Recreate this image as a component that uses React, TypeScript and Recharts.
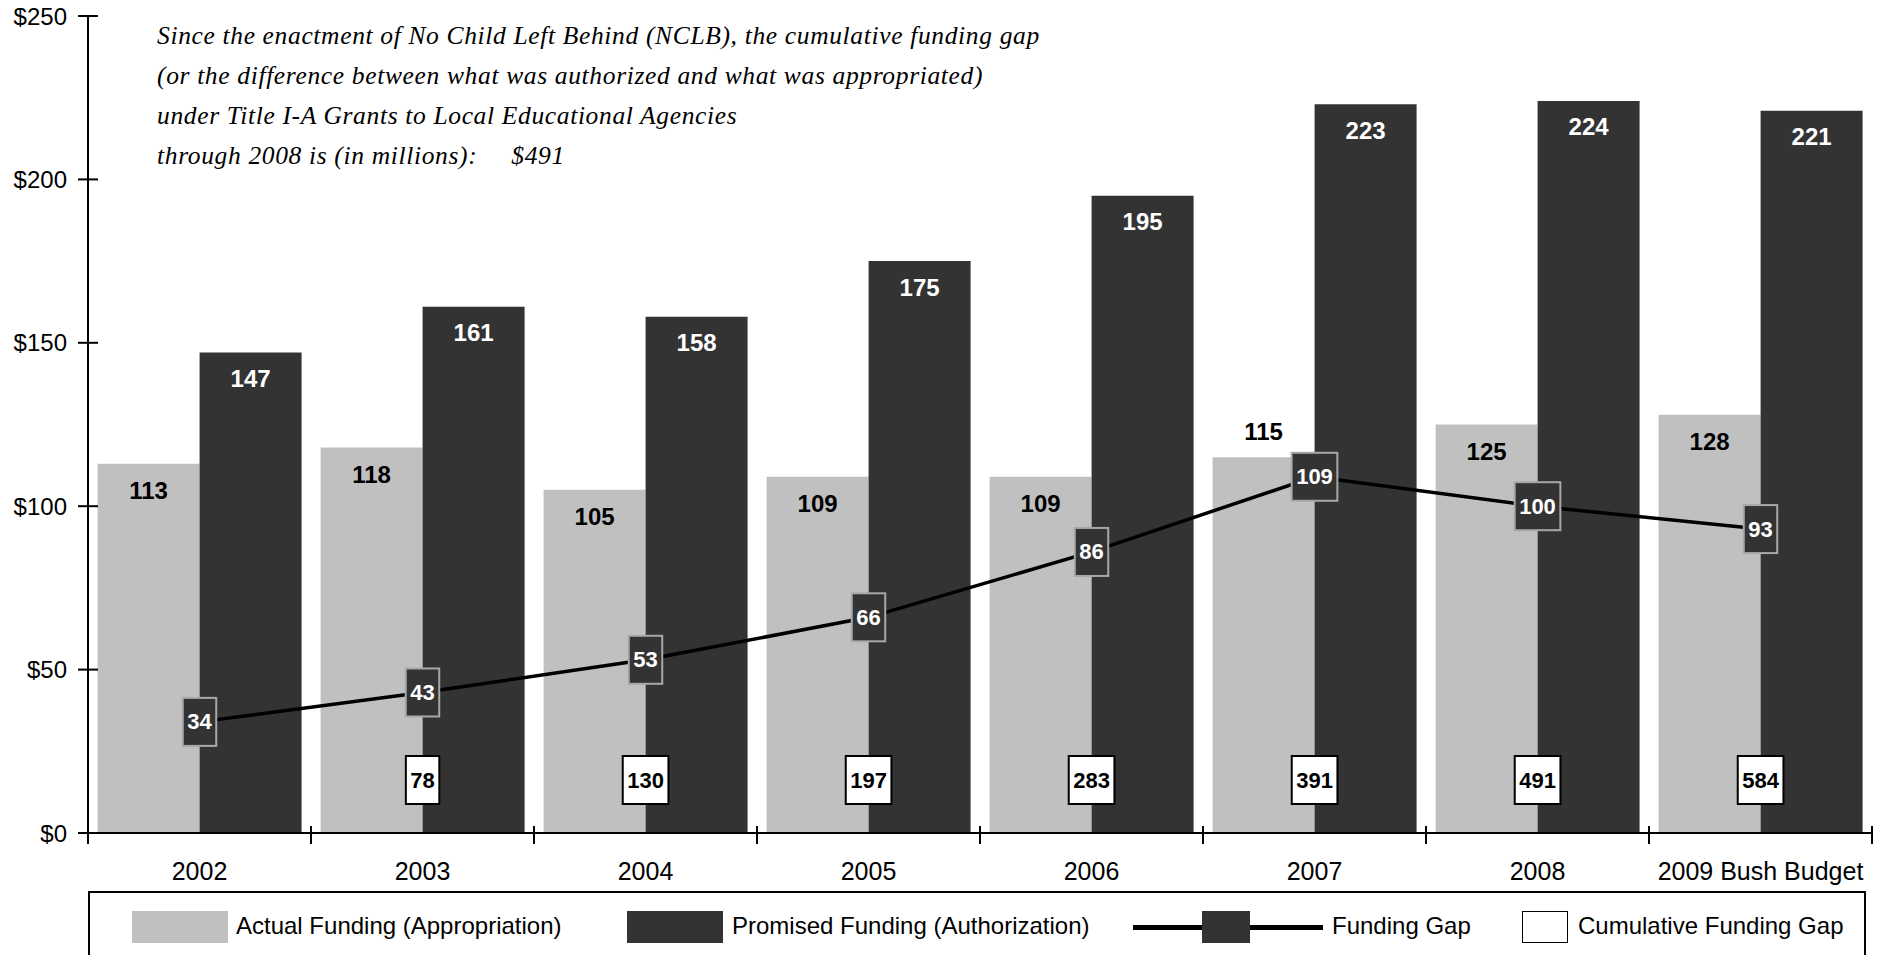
import React from 'react';
import { ComposedChart, Bar, Line, XAxis, YAxis, LabelList } from 'recharts';

const categories = ['2002', '2003', '2004', '2005', '2006', '2007', '2008', '2009 Bush Budget'];
const actualFunding = [113, 118, 105, 109, 109, 115, 125, 128];
const promisedFunding = [147, 161, 158, 175, 195, 223, 224, 221];
const fundingGap = [34, 43, 53, 66, 86, 109, 100, 93];
const cumulativeGap = [null, 78, 130, 197, 283, 391, 491, 584];
const yTicks = [0, 50, 100, 150, 200, 250];

const seriesNames = {
  actual: 'Actual Funding (Appropriation)',
  promised: 'Promised Funding (Authorization)',
  gap: 'Funding Gap',
  cumulative: 'Cumulative Funding Gap',
};

const noteLines = [
  'Since the enactment of No Child Left Behind (NCLB), the cumulative funding gap',
  '(or the difference between what was authorized and what was appropriated)',
  'under Title I-A Grants to Local Educational Agencies',
];
const noteLast = 'through 2008 is (in millions):';
const noteTotal = '$491';

const data = categories.map((name, i) => ({
  name,
  actual: actualFunding[i],
  promised: promisedFunding[i],
  gap: fundingGap[i],
  cumulative: cumulativeGap[i],
}));

const LIGHT = '#c0c0c0';
const DARK = '#333333';
const SANS = "'Liberation Sans', Arial, sans-serif";
const SERIF = "'Liberation Serif', 'Times New Roman', serif";

const W = 1887;
const H = 955;
const PLOT_LEFT = 88;
const PLOT_RIGHT = 1872;
const BAND = (PLOT_RIGHT - PLOT_LEFT) / categories.length;
const BOX_FONT = 22;

// box width grows with the number of digits
const boxWidth = (v: any) => String(v).length * 0.556 * BOX_FONT + 9;

const YTick = (props: any) => {
  const { x, y, payload } = props;
  return (
    <g>
      <line x1={x - 10} x2={x + 10} y1={y} y2={y} stroke="#000" strokeWidth={2} />
      <text x={x - 21} y={y} textAnchor="end" dominantBaseline="central" fontSize={24} fontFamily={SANS} fill="#000">
        ${payload.value}
      </text>
    </g>
  );
};

const XTick = (props: any) => {
  const { x, y, payload, index } = props;
  const left = x - BAND / 2;
  return (
    <g>
      <line x1={left} x2={left} y1={y - 9} y2={y + 9} stroke="#000" strokeWidth={2} />
      {index === categories.length - 1 && (
        <line x1={x + BAND / 2} x2={x + BAND / 2} y1={y - 9} y2={y + 9} stroke="#000" strokeWidth={2} />
      )}
      <text x={x} y={y + 36} textAnchor="middle" dominantBaseline="central" fontSize={25} fontFamily={SANS} fill="#000">
        {payload.value}
      </text>
    </g>
  );
};

const ActualLabel = (props: any) => {
  const { x, y, width, value, index } = props;
  // the label moves above the bar when the gap box would cover it
  const above = value - fundingGap[index] < 10;
  return (
    <text
      x={x + width / 2}
      y={above ? y - 26 : y + 27}
      textAnchor="middle"
      dominantBaseline="central"
      fontSize={24}
      fontWeight={700}
      fontFamily={SANS}
      fill="#000"
    >
      {value}
    </text>
  );
};

const PromisedLabel = (props: any) => {
  const { x, y, width, value } = props;
  return (
    <text
      x={x + width / 2}
      y={y + 26}
      textAnchor="middle"
      dominantBaseline="central"
      fontSize={24}
      fontWeight={700}
      fontFamily={SANS}
      fill="#fff"
    >
      {value}
    </text>
  );
};

const CumulativeBox = (props: any) => {
  const { x, y, width, height, value } = props;
  if (value == null) return null;
  const cx = x + width;
  const cy = y + height - 53;
  const w = boxWidth(value);
  return (
    <g>
      <rect x={cx - w / 2} y={cy - 24} width={w} height={48} fill="#fff" stroke="#000" strokeWidth={2} />
      <text x={cx} y={cy} textAnchor="middle" dominantBaseline="central" fontSize={BOX_FONT} fontWeight={700} fontFamily={SANS} fill="#000">
        {value}
      </text>
    </g>
  );
};

const GapDot = (props: any) => {
  const { cx, cy, value, index } = props;
  const w = boxWidth(value);
  return (
    <g key={`gap-${index}`}>
      <rect x={cx - w / 2} y={cy - 24} width={w} height={48} fill={DARK} stroke="#a8a8a8" strokeWidth={2} />
      <text x={cx} y={cy} textAnchor="middle" dominantBaseline="central" fontSize={BOX_FONT} fontWeight={700} fontFamily={SANS} fill="#fff">
        {value}
      </text>
    </g>
  );
};

const legendText: React.CSSProperties = { fontFamily: SANS, fontSize: 24, color: '#000', whiteSpace: 'nowrap' };

const ChartLegend = () => (
  <div
    style={{
      position: 'absolute',
      left: 88,
      top: 891,
      width: 1778,
      height: 80,
      border: '2px solid #000',
      boxSizing: 'border-box',
    }}
  >
    <div style={{ position: 'absolute', left: 42, top: 18, width: 96, height: 32, background: LIGHT }} />
    <div style={{ ...legendText, position: 'absolute', left: 146, top: 19 }}>{seriesNames.actual}</div>
    <div style={{ position: 'absolute', left: 537, top: 18, width: 96, height: 32, background: DARK }} />
    <div style={{ ...legendText, position: 'absolute', left: 642, top: 19 }}>{seriesNames.promised}</div>
    <div style={{ position: 'absolute', left: 1043, top: 32, width: 190, height: 5, background: '#000' }} />
    <div style={{ position: 'absolute', left: 1112, top: 18, width: 48, height: 32, background: DARK }} />
    <div style={{ ...legendText, position: 'absolute', left: 1242, top: 19 }}>{seriesNames.gap}</div>
    <div style={{ position: 'absolute', left: 1432, top: 18, width: 46, height: 32, background: '#fff', border: '1px solid #000', boxSizing: 'border-box' }} />
    <div style={{ ...legendText, position: 'absolute', left: 1488, top: 19 }}>{seriesNames.cumulative}</div>
  </div>
);

const Note = () => (
  <div
    style={{
      position: 'absolute',
      left: 157,
      top: 16,
      fontFamily: SERIF,
      fontStyle: 'italic',
      fontSize: 25.5,
      lineHeight: '40px',
      letterSpacing: 0.65,
      color: '#000',
      whiteSpace: 'nowrap',
    }}
  >
    {noteLines.map((l) => (
      <div key={l}>{l}</div>
    ))}
    <div>
      {noteLast}
      <span style={{ marginLeft: 34 }}>{noteTotal}</span>
    </div>
  </div>
);

export default function App() {
  return (
    <div style={{ position: 'absolute', left: 0, top: 0, width: W, height: H, background: '#fff', overflow: 'hidden' }}>
      <ComposedChart
        width={W}
        height={H}
        data={data}
        margin={{ top: 16, right: W - PLOT_RIGHT, left: 8, bottom: 72 }}
        barCategoryGap="4.3%"
        barGap={0}
      >
        <XAxis
          dataKey="name"
          axisLine={{ stroke: '#000', strokeWidth: 2 }}
          tickLine={false}
          tickSize={0}
          height={50}
          tick={<XTick />}
          interval={0}
        />
        <YAxis
          domain={[0, 250]}
          ticks={yTicks}
          width={80}
          axisLine={{ stroke: '#000', strokeWidth: 2 }}
          tickLine={false}
          tickSize={0}
          tickMargin={0}
          tick={<YTick />}
          interval={0}
        />
        <Bar dataKey="actual" fill={LIGHT} isAnimationActive={false}>
          <LabelList dataKey="actual" content={<ActualLabel />} />
          <LabelList dataKey="cumulative" content={<CumulativeBox />} />
        </Bar>
        <Bar dataKey="promised" fill={DARK} isAnimationActive={false}>
          <LabelList dataKey="promised" content={<PromisedLabel />} />
        </Bar>
        <Line
          dataKey="gap"
          stroke="#000"
          strokeWidth={3.5}
          dot={(p: any) => <GapDot {...p} />}
          activeDot={false}
          isAnimationActive={false}
        />
      </ComposedChart>
      <Note />
      <ChartLegend />
    </div>
  );
}
